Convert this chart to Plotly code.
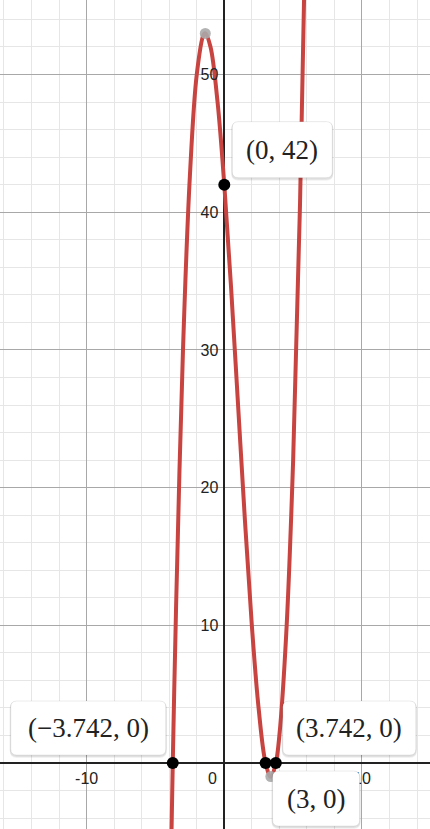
import plotly.graph_objects as go

# ---- data ----
curve_x = [-4.0, -3.742, -3.5, -3.0, -2.5, -2.0, -1.5, -1.38, -1.0, -0.5, 0.0, 0.5,
           1.0, 1.5, 2.0, 2.5, 3.0, 3.38, 3.742, 4.0, 4.5, 5.0, 5.5, 6.0]
curve_y = [-14.0, 0.0, 11.4, 30.0, 42.6, 50.0, 52.9, 53.0, 52.0, 48.1, 42.0, 34.4,
           26.0, 17.6, 10.0, 3.9, 0.0, -1.0, 0.0, 2.0, 9.4, 22.0, 40.6, 66.0]

key_x = [-3.742, 0.0, 3.0, 3.742]
key_y = [0.0, 42.0, 0.0, 0.0]
key_labels = ["(−3.742, 0)", "(0, 42)", "(3, 0)", "(3.742, 0)"]

ext_x = [-1.38, 3.38]
ext_y = [52.98, -0.98]

x_range = [-16.29, 14.94]
y_range = [-4.79, 55.41]
x_ticks = [-10, 10]
x_ticktext = ["-10", "10"]
y_ticks = [10, 20, 30, 40, 50]
y_ticktext = ["10", "20", "30", "40", "50"]

RED = "#c74440"

fig = go.Figure()
fig.add_trace(go.Scatter(x=curve_x, y=curve_y, mode="lines",
                         line=dict(color=RED, width=4, shape="spline", smoothing=1.0),
                         hoverinfo="skip", showlegend=False))
fig.add_trace(go.Scatter(x=ext_x, y=ext_y, mode="markers",
                         marker=dict(color="rgba(170,170,170,0.9)", size=11),
                         hoverinfo="skip", showlegend=False))
fig.add_trace(go.Scatter(x=key_x, y=key_y, mode="markers",
                         marker=dict(color="black", size=12),
                         hoverinfo="skip", showlegend=False))


def rrect(x0, x1, y0, y1, r=6):
    return (f"M {x0+r},{y0} L {x1-r},{y0} Q {x1},{y0} {x1},{y0+r} "
            f"L {x1},{y1-r} Q {x1},{y1} {x1-r},{y1} L {x0+r},{y1} "
            f"Q {x0},{y1} {x0},{y1-r} L {x0},{y0+r} Q {x0},{y0} {x0+r},{y0} Z")


# box placement (pixels relative to the point): x0, x1, y0, y1 (y up)
boxes = {
    "(−3.742, 0)": (-162, -7, 8, 62),
    "(0, 42)": (8, 108, 7, 63),
    "(3, 0)": (7, 94, -63, -8),
    "(3.742, 0)": (7, 140, 8, 62),
}

shapes = []
annotations = []
for px, py, lab in zip(key_x, key_y, key_labels):
    x0, x1, y0, y1 = boxes[lab]
    for dx, dy, col in [(0, -2, "rgba(0,0,0,0.05)"), (0, -1, "rgba(0,0,0,0.07)")]:
        shapes.append(dict(type="path", layer="above", xref="x", yref="y",
                           xsizemode="pixel", ysizemode="pixel", xanchor=px, yanchor=py,
                           path=rrect(x0 + dx - 1, x1 + dx + 1, y0 + dy - 1, y1 + dy + 1, 7),
                           fillcolor=col, line=dict(width=0)))
    shapes.append(dict(type="path", layer="above", xref="x", yref="y",
                       xsizemode="pixel", ysizemode="pixel", xanchor=px, yanchor=py,
                       path=rrect(x0, x1, y0, y1, 6),
                       fillcolor="white", line=dict(color="rgba(0,0,0,0.08)", width=1)))
    annotations.append(dict(x=px, y=py, xref="x", yref="y", showarrow=False,
                            text=lab, xanchor="center", yanchor="middle",
                            xshift=(x0 + x1) / 2, yshift=(y0 + y1) / 2,
                            font=dict(family="Liberation Serif", size=27, color="#222")))

# origin label
annotations.append(dict(x=0, y=0, xref="x", yref="y", showarrow=False, text="0",
                        xanchor="center", yanchor="middle", xshift=-12, yshift=-15,
                        font=dict(family="Liberation Sans", size=16, color="#222")))

xpos = -y_range[0] / (y_range[1] - y_range[0])
ypos = -x_range[0] / (x_range[1] - x_range[0])

fig.update_layout(
    width=430, height=829, margin=dict(l=0, r=0, t=0, b=0),
    paper_bgcolor="white", plot_bgcolor="white",
    shapes=shapes, annotations=annotations,
    xaxis=dict(range=x_range, tickmode="array", tickvals=x_ticks, ticktext=x_ticktext,
               showgrid=True, gridcolor="#a8a8a8", gridwidth=1,
               minor=dict(tickmode="linear", tick0=0, dtick=2, showgrid=True,
                          gridcolor="#e6e6e6", gridwidth=1, ticks=""),
               zeroline=True, zerolinecolor="#222", zerolinewidth=1.5,
               showline=False, ticks="", anchor="free", position=xpos,
               ticklabelstandoff=4,
               tickfont=dict(family="Liberation Sans", size=16, color="#222"),
               fixedrange=True),
    yaxis=dict(range=y_range, tickmode="array", tickvals=y_ticks, ticktext=y_ticktext,
               showgrid=True, gridcolor="#a8a8a8", gridwidth=1,
               minor=dict(tickmode="linear", tick0=0, dtick=2, showgrid=True,
                          gridcolor="#e6e6e6", gridwidth=1, ticks=""),
               zeroline=True, zerolinecolor="#222", zerolinewidth=1.5,
               showline=False, ticks="", anchor="free", position=ypos,
               ticklabelstandoff=6,
               tickfont=dict(family="Liberation Sans", size=16, color="#222"),
               fixedrange=True),
)

fig.write_html("out.html", config={"displayModeBar": False},
               post_script="document.body.style.margin='0';document.body.style.overflow='hidden';")
